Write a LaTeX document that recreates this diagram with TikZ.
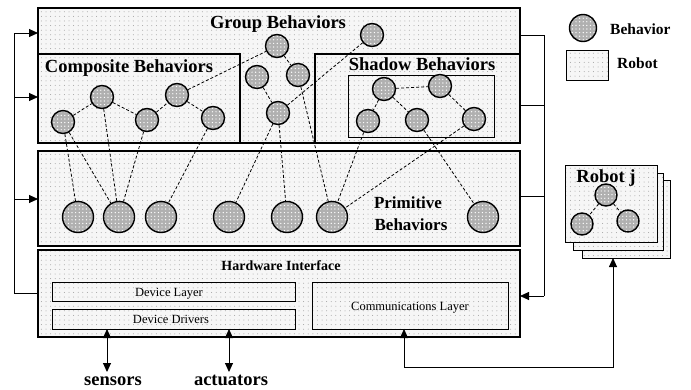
\documentclass[tikz,border=0pt]{standalone}
\usepackage{fontspec}
\setmainfont{Liberation Serif}
\usetikzlibrary{arrows.meta,fit,patterns.meta}
\tikzset{
  boxbase/.style={draw, inner sep=0pt, outer sep=0pt, preaction={fill=gray!7},
    pattern={Dots[distance=4.6pt,radius=0.5pt]}, pattern color=gray!75},
  bigbox/.style={boxbase, line width=1.3pt},
  smallbox/.style={boxbase, line width=0.8pt},
  beh/.style={circle, draw, line width=1.4pt, minimum size=23pt, inner sep=0pt,
    preaction={fill=gray!62}, pattern={Dots[distance=3.6pt,radius=0.7pt]}, pattern color=white},
  prim/.style={beh, minimum size=31pt},
  link/.style={dashed, dash pattern=on 3pt off 2pt, line width=0.8pt},
  conn/.style={line width=0.9pt},
  arr/.style={conn, -{Triangle[length=9pt,width=8pt]}},
  darr/.style={conn, {Triangle[length=9pt,width=8pt]}-{Triangle[length=9pt,width=8pt]}},
  title/.style={font=\bfseries\fontsize{18.5}{20}\selectfont, anchor=base, inner sep=0pt},
  small/.style={font=\fontsize{12.5}{14}\selectfont, anchor=base, inner sep=0pt},
}
\begin{document}
\begin{tikzpicture}[x=1pt,y=-1pt]
\useasboundingbox (0,0) rectangle (691,389);

% main boxes
\node[bigbox, fit={(38,8)(520,143)}] (group) {};
\node[bigbox, fit={(38,54)(240,143)}] (comp) {};
\node[bigbox, fit={(315,54)(520,143)}] (shadow) {};
\node[draw, line width=0.9pt, inner sep=0pt, fit={(348,75)(494,137)}] (shin) {};
\node[bigbox, fit={(38,151)(520,246)}] (prim) {};
\node[bigbox, fit={(38,250)(520,337)}] (hw) {};
\node[smallbox, fit={(52,282)(295,301)}] (dl) {};
\node[smallbox, fit={(52,309)(295,329)}] (dd) {};
\node[smallbox, fit={(312,282)(508,329)}] (comm) {};

% robot j stack
\node[smallbox, line width=1pt, fit={(582,180)(670,258)}] (rj3) {};
\node[smallbox, line width=1pt, fit={(573,173)(663,250)}] (rj2) {};
\node[smallbox, line width=1pt, fit={(565,165)(657,242)}] (rj1) {};

% legend
\node[beh, minimum size=27pt] (legb) at (583,28) {};
\node[smallbox, fit={(566,50)(608,80)}] (legr) {};
\node[title, anchor=base west, font=\bfseries\fontsize{15.5}{18}\selectfont] (tlegb) at (610,34) {Behavior};
\node[title, anchor=base west, font=\bfseries\fontsize{15.5}{18}\selectfont] (tlegr) at (617,68) {Robot};

% titles
\node[title] (tgroup) at (278,28) {Group Behaviors};
\node[title] (tcomp) at (129,72) {Composite Behaviors};
\node[title] (tshadow) at (422,70) {Shadow Behaviors};
\node[title, font=\bfseries\fontsize{17}{19}\selectfont] (tprim1) at (408,208) {Primitive};
\node[title, font=\bfseries\fontsize{17}{19}\selectfont] (tprim2) at (411,230) {Behaviors};
\node[title] (trj) at (606,182) {Robot j};
\node[title, font=\bfseries\fontsize{14}{16}\selectfont] (thw) at (281,270) {Hardware Interface};
\node[small] (tdl) at (169,296) {Device Layer};
\node[small] (tdd) at (171,323) {Device Drivers};
\node[small] (tcomm) at (410,310) {Communications Layer};
\node[title] (tsens) at (113,385) {sensors};
\node[title] (tact) at (231,385) {actuators};

% behaviours
\node[beh] (c1) at (63,122) {};
\node[beh] (c2) at (102,97) {};
\node[beh] (c3) at (147,120) {};
\node[beh] (c4) at (177,95) {};
\node[beh] (c5) at (213,118) {};
\node[beh] (g1) at (277,46) {};
\node[beh] (g2) at (257,77) {};
\node[beh] (g3) at (298,75) {};
\node[beh] (g4) at (278,113) {};
\node[beh] (g5) at (372,35) {};
\node[beh] (s1) at (384,89) {};
\node[beh] (s2) at (440,86) {};
\node[beh] (s3) at (368,121) {};
\node[beh] (s4) at (417,120) {};
\node[beh] (s5) at (474,119) {};
\node[prim] (p1) at (78,217) {};
\node[prim] (p2) at (119,217) {};
\node[prim] (p3) at (161,217) {};
\node[prim] (p4) at (229,217) {};
\node[prim] (p5) at (287,217) {};
\node[prim] (p6) at (332,217) {};
\node[prim] (p7) at (483,217) {};
\node[beh, minimum size=22pt] (r1) at (606,195) {};
\node[beh, minimum size=22pt] (r2) at (582,224) {};
\node[beh, minimum size=22pt] (r3) at (628,221) {};

% dashed links
\draw[link] (c1) -- (c2);
\draw[link] (c2) -- (c3);
\draw[link] (c3) -- (c4);
\draw[link] (c4) -- (c5);
\draw[link] (c4) -- (g1);
\draw[link] (g1) -- (g3);
\draw[link] (g2) -- (g4);
\draw[link] (g4) -- (g5);
\draw[link] (s1) -- (s2);
\draw[link] (s1) -- (s3);
\draw[link] (s1) -- (s4);
\draw[link] (s2) -- (s5);
\draw[link] (c1) -- (p1);
\draw[link] (c1) -- (p2);
\draw[link] (c2) -- (p2);
\draw[link] (c3) -- (p2);
\draw[link] (c5) -- (p3);
\draw[link] (g4) -- (p4);
\draw[link] (g4) -- (p5);
\draw[link] (g3) -- (p6);
\draw[link] (s3) -- (p6);
\draw[link] (s5) -- (p6);
\draw[link] (s4) -- (p7);
\draw[link] (r1) -- (r2);
\draw[link] (r1) -- (r3);

% left feedback line
\coordinate (L0) at (14,33);
\coordinate (L1) at (14,97);
\coordinate (L2) at (14,199);
\coordinate (L3) at (14,293);
\draw[conn] (hw.west |- L3) -- (L3) -- (L0);
\draw[arr] (L0) -- (group.west |- L0);
\draw[arr] (L1) -- (comp.west |- L1);
\draw[arr] (L2) -- (prim.west |- L2);

% right line
\coordinate (R0) at (544,35);
\coordinate (R1) at (544,105);
\coordinate (R2) at (544,196);
\coordinate (R3) at (544,296);
\draw[conn] (group.east |- R0) -- (R0) -- (R3);
\draw[conn] (shadow.east |- R1) -- (R1);
\draw[conn] (prim.east |- R2) -- (R2);
\draw[arr] (R3) -- (hw.east |- R3);

% communications
\coordinate (B1) at (404,367);
\coordinate (B2) at (613,367);
\draw[darr] (comm.south -| B1) -- (B1) -- (B2) -- (rj3.south -| B2);

% sensors / actuators
\coordinate (S) at (107,372);
\coordinate (A) at (229,372);
\draw[darr] (dd.south -| S) -- (S);
\draw[darr] (dd.south -| A) -- (A);
\end{tikzpicture}
\end{document}
